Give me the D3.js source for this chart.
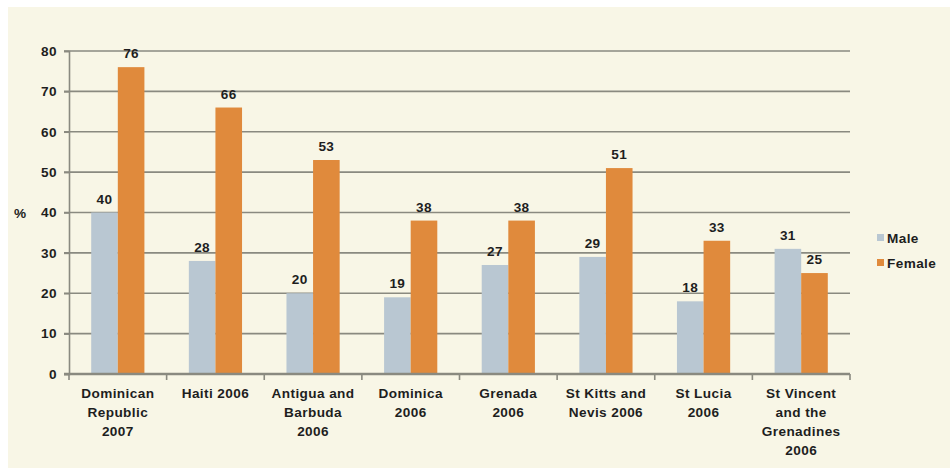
<!DOCTYPE html>
<html>
<head>
<meta charset="utf-8">
<script src="https://cdn.jsdelivr.net/npm/d3@7"></script>
<style>
  html, body { margin: 0; padding: 0; background: #ffffff; }
  svg { display: block; }
  text { font-family: "Liberation Sans", Arial, sans-serif; font-weight: bold; fill: #1e1e1e; letter-spacing: 0.4px; }
</style>
</head>
<body>
<svg id="chart" width="950" height="468"></svg>
<script>
// Categories (multi-line labels) and series values, in %
const categories = [
  ["Dominican", "Republic", "2007"],
  ["Haiti 2006"],
  ["Antigua and", "Barbuda", "2006"],
  ["Dominica", "2006"],
  ["Grenada", "2006"],
  ["St Kitts and", "Nevis 2006"],
  ["St Lucia", "2006"],
  ["St Vincent", "and the", "Grenadines", "2006"]
];
const maleValues   = [40, 28, 20, 19, 27, 29, 18, 31];
const femaleValues = [76, 66, 53, 38, 38, 51, 33, 25];
const seriesNames  = ["Male", "Female"];
const yTicks       = [0, 10, 20, 30, 40, 50, 60, 70, 80];

const colors = { Male: "#b9c7d2", Female: "#e08a3c" };
const FS = 13.6;

const svg = d3.select("#chart");

// cream panel
svg.append("rect").attr("x", 8).attr("y", 7).attr("width", 942).attr("height", 461)
  .attr("fill", "#f8f6e6");

const plot = { left: 69, right: 850, top: 51, bottom: 374 };

const keys = categories.map((c, i) => i);
const x0 = d3.scaleBand().domain(keys).range([plot.left, plot.right])
  .paddingInner(0.455).paddingOuter(0.2275);
const x1 = d3.scaleBand().domain(seriesNames).range([0, x0.bandwidth()]);
const y = d3.scaleLinear().domain([0, 80]).range([plot.bottom, plot.top]);

const g = svg.append("g");

// horizontal gridlines
g.append("g").selectAll("line").data(yTicks.filter(t => t > 0)).join("line")
  .attr("x1", plot.left - 5).attr("x2", plot.right)
  .attr("y1", d => y(d)).attr("y2", d => y(d))
  .attr("stroke", "#8a8a80").attr("stroke-width", 1.6);

// y axis
const yAxis = d3.axisLeft(y).tickValues(yTicks).tickSize(5).tickPadding(7);
const yg = g.append("g").attr("transform", `translate(${plot.left},0)`).call(yAxis);
yg.select(".domain").attr("stroke", "#8a8a80").attr("stroke-width", 1.6);
yg.selectAll(".tick line").attr("stroke", "#8a8a80").attr("stroke-width", 1.6);
yg.selectAll(".tick text").attr("font-size", FS).attr("fill", "#1e1e1e")
  .attr("font-family", "Liberation Sans, Arial, sans-serif").attr("font-weight", "bold");

svg.append("text").attr("x", 14).attr("y", y(40) + 5).attr("font-size", FS).text("%");

// bars
const rows = keys.map(i => ({ i, Male: maleValues[i], Female: femaleValues[i] }));
const groups = g.append("g").selectAll("g").data(rows).join("g")
  .attr("transform", d => `translate(${x0(d.i)},0)`);

groups.selectAll("rect").data(d => seriesNames.map(k => ({ k, v: d[k] }))).join("rect")
  .attr("x", d => x1(d.k)).attr("width", x1.bandwidth())
  .attr("y", d => y(d.v)).attr("height", d => y(0) - y(d.v))
  .attr("fill", d => colors[d.k]);

groups.selectAll("text.val").data(d => seriesNames.map(k => ({ k, v: d[k] }))).join("text")
  .attr("class", "val")
  .attr("x", d => x1(d.k) + x1.bandwidth() / 2)
  .attr("y", d => y(d.v) - 9)
  .attr("text-anchor", "middle").attr("font-size", FS)
  .text(d => d.v);

// x axis with category boundary ticks
const boundaries = d3.range(categories.length + 1).map(k => plot.left + k * (plot.right - plot.left) / categories.length);
g.append("line").attr("x1", plot.left - 5).attr("x2", plot.right)
  .attr("y1", y(0)).attr("y2", y(0)).attr("stroke", "#8a8a80").attr("stroke-width", 2.6);
g.append("g").selectAll("line").data(boundaries).join("line")
  .attr("x1", d => d).attr("x2", d => d)
  .attr("y1", y(0)).attr("y2", y(0) + 6)
  .attr("stroke", "#8a8a80").attr("stroke-width", 1.6);

// category labels
const lab = g.append("g").selectAll("text").data(keys).join("text")
  .attr("text-anchor", "middle").attr("font-size", FS)
  .attr("x", i => x0(i) + x0.bandwidth() / 2);
lab.selectAll("tspan").data(i => categories[i]).join("tspan")
  .attr("x", function() { return d3.select(this.parentNode).attr("x"); })
  .attr("y", (d, j) => 398 + j * 19)
  .text(d => d);

// legend
const leg = svg.append("g").selectAll("g").data(seriesNames).join("g")
  .attr("transform", (d, i) => `translate(877,${238 + i * 25})`);
leg.append("rect").attr("x", 0).attr("y", -4).attr("width", 7).attr("height", 7)
  .attr("fill", d => colors[d]);
leg.append("text").attr("x", 10).attr("y", 5).attr("font-size", FS).text(d => d);
</script>
</body>
</html>
